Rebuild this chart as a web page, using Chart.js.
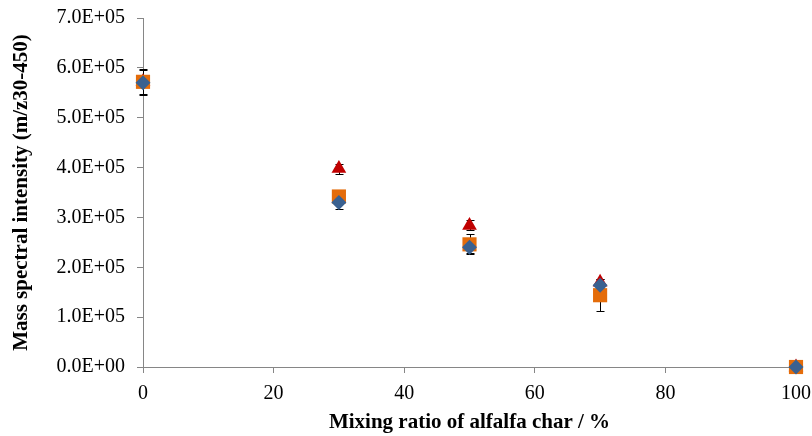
<!DOCTYPE html>
<html>
<head>
<meta charset="utf-8">
<script src="https://cdn.jsdelivr.net/npm/chart.js@4"></script>
<style>
  html, body { margin: 0; padding: 0; background: #fff; }
  #wrap { width: 812px; height: 436px; }
</style>
</head>
<body>
<div id="wrap"><canvas id="scatterChart" width="812" height="436"></canvas></div>
<script>
// mixing ratio (%)
var ratios = [0, 30, 50, 70, 100];
// mass spectral intensity per series
var diamondValues = [570000, 330000, 240000, 164000, 0];
var diamondErrors = [25000, 14000, 12000, 6000, 0];
var squareValues = [572000, 342000, 246000, 144000, 0];
var squareErrors = [25000, 10000, 20000, 32000, 0];
var triangleValues = [572000, 398000, 284000, 170000, 0];
var triangleErrors = [10000, 10000, 10000, 6000, 0];

var xTicks = [0, 20, 40, 60, 80, 100];
var yTicks = [0, 100000, 200000, 300000, 400000, 500000, 600000, 700000];

function toPoints(vals, errs) {
    return ratios.map(function (r, i) { return { x: r, y: vals[i], err: errs[i] }; });
}

function sciLabel(v) {
    if (v === 0) return '0.0E+00';
    return (v / 100000).toFixed(1) + 'E+05';
}

// error bars drawn under the markers
var errorBarPlugin = {
    id: 'errorBars',
    beforeDatasetsDraw: function (chart) {
        var ctx = chart.ctx;
        var xs = chart.scales.x, ys = chart.scales.y;
        ctx.save();
        ctx.strokeStyle = '#000000';
        ctx.lineWidth = 1;
        chart.data.datasets.forEach(function (ds) {
            ds.data.forEach(function (p) {
                if (!p.err) return;
                var px = Math.round(xs.getPixelForValue(p.x)) + 0.5;
                var top = Math.round(ys.getPixelForValue(p.y + p.err)) + 0.5;
                var bot = Math.round(ys.getPixelForValue(p.y - p.err)) + 0.5;
                ctx.beginPath();
                ctx.moveTo(px, top); ctx.lineTo(px, bot);
                ctx.moveTo(px - 4, top); ctx.lineTo(px + 4, top);
                ctx.moveTo(px - 4, bot); ctx.lineTo(px + 4, bot);
                ctx.stroke();
            });
        });
        ctx.restore();
    }
};

var ctx = document.getElementById('scatterChart').getContext('2d');
var myChart = new Chart(ctx, {
    type: 'scatter',
    data: {
        datasets: [{
            label: 'diamond',
            data: toPoints(diamondValues, diamondErrors),
            pointStyle: 'rectRot',
            pointRadius: 7.5,
            backgroundColor: '#3A6190',
            borderColor: '#3A6190',
            borderWidth: 0,
            clip: false
        }, {
            label: 'square',
            data: toPoints(squareValues, squareErrors),
            pointStyle: 'rect',
            pointRadius: 10,
            backgroundColor: '#E46C0A',
            borderColor: '#E46C0A',
            borderWidth: 0,
            clip: false
        }, {
            label: 'triangle',
            data: toPoints(triangleValues, triangleErrors),
            pointStyle: 'triangle',
            pointRadius: 8.5,
            backgroundColor: '#C00000',
            borderColor: '#C00000',
            borderWidth: 0,
            clip: false
        }]
    },
    plugins: [errorBarPlugin],
    options: {
        responsive: false,
        animation: false,
        layout: { padding: { top: 18, right: 16, left: 0, bottom: 0 } },
        plugins: {
            legend: { display: false },
            tooltip: { enabled: false }
        },
        scales: {
            x: {
                type: 'linear',
                min: 0,
                max: 100,
                afterBuildTicks: function (axis) {
                    axis.ticks = xTicks.map(function (v) { return { value: v }; });
                },
                afterFit: function (axis) {
                    axis.height = 69;
                    axis.paddingLeft = 0;
                    axis.paddingRight = 0;
                },
                border: { color: '#868686', width: 1 },
                grid: { drawOnChartArea: false, tickLength: 6, color: '#868686' },
                ticks: {
                    color: '#000000',
                    padding: 9,
                    maxRotation: 0,
                    font: { family: 'Liberation Serif', size: 20 }
                },
                title: {
                    display: true,
                    text: 'Mixing ratio of alfalfa char / %',
                    color: '#000000',
                    padding: { top: 0, bottom: 1 },
                    font: { family: 'Liberation Serif', size: 21, weight: 'bold' }
                }
            },
            y: {
                type: 'linear',
                min: 0,
                max: 700000,
                afterBuildTicks: function (axis) {
                    axis.ticks = yTicks.map(function (v) { return { value: v }; });
                },
                afterFit: function (axis) {
                    axis.width = 143;
                    axis.paddingTop = 0;
                    axis.paddingBottom = 0;
                },
                border: { color: '#868686', width: 1 },
                grid: { drawOnChartArea: false, tickLength: 6, color: '#868686' },
                ticks: {
                    color: '#000000',
                    padding: 12,
                    callback: sciLabel,
                    font: { family: 'Liberation Serif', size: 20 }
                },
                title: {
                    display: true,
                    text: 'Mass spectral intensity (m/z30-450)',
                    color: '#000000',
                    padding: { top: 9, bottom: 0 },
                    font: { family: 'Liberation Serif', size: 21, weight: 'bold' }
                }
            }
        }
    }
});
</script>
</body>
</html>
